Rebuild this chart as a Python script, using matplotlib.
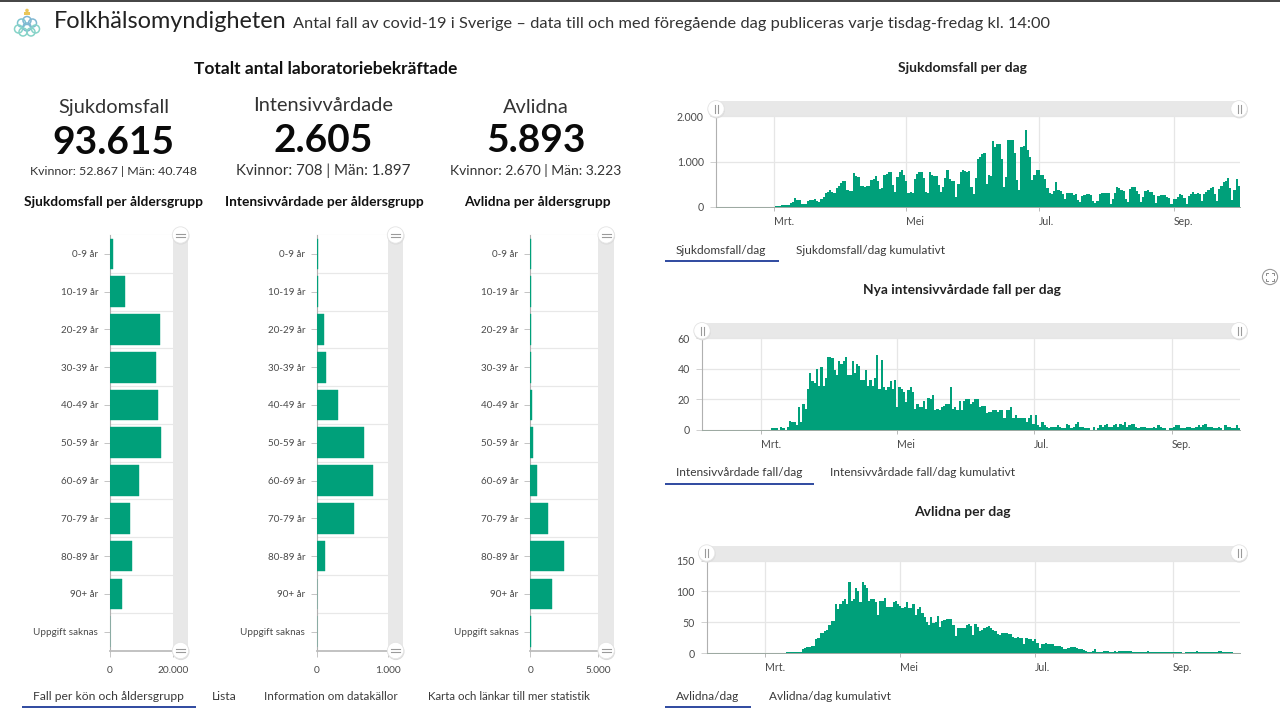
import numpy as np
import matplotlib
matplotlib.use("Agg")
import matplotlib.pyplot as plt
from matplotlib.patches import Circle, Rectangle

plt.rcParams['font.family'] = ['Lato', 'DejaVu Sans']

age_groups = ["0-9 år", "10-19 år", "20-29 år", "30-39 år", "40-49 år", "50-59 år",
              "60-69 år", "70-79 år", "80-89 år", "90+ år", "Uppgift saknas"]
age_cases = [850, 4870, 15870, 14700, 15240, 16190, 9310, 6350, 6980, 3700, 60]
age_icu = [20, 20, 98, 127, 296, 667, 784, 521, 113, 6, 6]
age_deaths = [20, 20, 20, 25, 110, 200, 490, 1300, 2470, 1560, 20]

feb_zero = [0] * 26

cases_mar = [2,10,20,25,30,50,40,40,90,100,200,150,140,70,60,70,120,140,140,170,130,110,180,220,300,330,380,320,310,420,450]
cases_apr = [520,560,580,370,340,360,740,690,650,450,460,440,460,450,600,620,680,580,400,420,700,720,760,780,480,320,650,780,810,700]
cases_may = [560,300,320,310,620,730,770,760,640,320,300,770,700,680,690,490,320,430,640,810,620,570,560,220,500,770,810,790,780,790,440]
cases_jun = [280,640,1060,1100,1160,1180,500,700,680,1450,1330,1380,1380,1050,430,650,1480,1480,1480,1200,600,380,1330,1350,1700,1250,1100,600,700,810]
cases_jul = [820,700,700,620,420,300,280,340,550,380,350,280,170,300,300,300,270,280,150,110,230,270,290,280,260,130,80,120,290,310,310]
cases_aug = [310,300,70,180,300,430,420,370,350,170,100,400,440,440,340,280,100,210,350,370,330,320,260,90,230,250,270,250,220,190,60]
cases_sep = [170,170,210,280,250,200,60,240,280,320,280,310,280,130,280,330,370,410,430,280,130,400,450,550,580,640,420,160,370,620,450]

icu_mar = [0,0,0,0,0,1,1,1,0,2,1,0,2,6,5,5,3,15,5,17,14,27,37,32,31,40,29,41,29,34,48]
icu_apr = [48,47,39,36,45,43,45,48,36,36,45,37,43,42,33,33,39,29,33,29,34,49,27,46,28,26,28,32,27,33]
icu_may = [15,28,27,25,18,26,28,25,14,17,15,15,19,14,21,20,23,13,14,13,15,16,17,17,28,14,15,13,19,13,19]
icu_jun = [20,20,17,18,20,20,15,16,16,11,12,12,13,13,12,13,13,8,13,13,15,8,10,8,8,8,8,5,8,10]
icu_jul = [4,10,3,2,5,3,2,1,2,2,2,3,2,1,1,4,3,1,2,4,5,2,2,1,1,1,0,2,0,1,3]
icu_aug = [2,3,4,2,2,3,4,2,4,3,5,2,3,4,4,2,1,2,2,2,1,1,1,2,1,3,2,1,1,0,1]
icu_sep = [1,2,3,3,1,1,1,2,2,1,1,2,3,2,3,4,2,2,2,1,1,2,1,0,3,2,2,1,1,3,1]

deaths_mar = [0,0,0,0,0,0,0,0,0,0,1,1,1,2,2,2,2,6,8,10,9,11,11,22,24,32,33,36,38,46,52]
deaths_apr = [52,80,71,80,85,88,80,115,85,88,105,100,82,115,110,105,85,88,88,82,62,85,85,90,74,75,74,83,84,80]
deaths_may = [76,73,75,83,73,73,80,62,72,75,65,58,50,45,58,48,50,60,42,52,54,55,55,55,45,28,40,40,40,40,46]
deaths_jun = [47,43,30,47,42,35,38,40,42,43,40,37,35,31,30,33,33,32,31,31,26,25,26,25,25,15,24,22,22,20]
deaths_jul = [22,17,8,15,14,16,15,14,15,12,12,12,10,7,7,8,9,10,9,8,7,6,5,3,2,2,3,6,2,1,2]
deaths_aug = [3,3,3,2,2,3,2,3,3,3,4,3,4,2,1,1,2,1,2,2,3,2,1,1,1,1,1,1,1,1,1]
deaths_sep = [1,2,2,1,1,0,1,1,1,1,2,3,2,1,2,2,1,1,1,1,1,3,3,1,1,1,2,1,0,0,0]

cases_daily = feb_zero + cases_mar + cases_apr + cases_may + cases_jun + cases_jul + cases_aug + cases_sep
icu_daily = feb_zero + icu_mar + icu_apr + icu_may + icu_jun + icu_jul + icu_aug + icu_sep
deaths_daily = feb_zero + deaths_mar + deaths_apr + deaths_may + deaths_jun + deaths_jul + deaths_aug + deaths_sep

month_ticks = np.array(["2020-03-01", "2020-05-01", "2020-07-01", "2020-09-01"], dtype="datetime64[D]")
month_labels = ["Mrt.", "Mei", "Jul.", "Sep."]

GREEN = "#00a07a"
TXT = "#4a4a4a"
W, H = 1280, 720
fig = plt.figure(figsize=(12.8, 7.2), dpi=100, facecolor="white")


def px_axes(l, t, r, b, z=1):
    return fig.add_axes([l / W, 1 - b / H, (r - l) / W, (b - t) / H], zorder=z)


ui_back = px_axes(0, 0, W, H, z=0)
ui_back.set_xlim(0, W); ui_back.set_ylim(H, 0); ui_back.axis("off")
ui = px_axes(0, 0, W, H, z=5)
ui.set_xlim(0, W); ui.set_ylim(H, 0); ui.axis("off"); ui.patch.set_alpha(0)


def handle(x, y, vertical):
    ui.add_patch(Circle((x + 0.4, y + 1), 8.6, fc="#dcdcdc", ec="none"))
    ui.add_patch(Circle((x, y), 8.2, fc="white", ec="#e4e4e4", lw=0.6))
    if vertical:
        for d in (-1.5, 1.5):
            ui.plot([x + d, x + d], [y - 4, y + 4], color="#9a9a9a", lw=0.8)
    else:
        for d in (-1.5, 1.5):
            ui.plot([x - 4.5, x + 4.5], [y + d, y + d], color="#9a9a9a", lw=0.8)


def hbar_panel(vals, left, band, band_end, xmax, maxlabel):
    ax = px_axes(left, 235, band, 650.5)
    ax.barh(np.arange(len(vals)), vals, height=0.81, color=GREEN, edgecolor=GREEN, linewidth=0.3, zorder=3)
    ax.set_xlim(0, xmax); ax.set_ylim(10.5, -0.5)
    ax.set_yticks(np.arange(11)); ax.set_yticklabels(age_groups)
    ax.set_yticks(np.arange(0.5, 10), minor=True)
    ax.set_xticks([0, xmax]); ax.set_xticklabels(["0", maxlabel])
    ax.grid(True, which="minor", axis="y", color="#e8e8e8", lw=0.9)
    ax.tick_params(axis="y", which="minor", length=0)
    ax.tick_params(axis="y", which="major", length=4, width=0.7, color="#c4c4c4", labelsize=7.1, labelcolor=TXT, pad=4.5)
    ax.tick_params(axis="x", length=4, width=0.7, color="#c4c4c4", labelsize=7.3, labelcolor=TXT, pad=7)
    for s in ("top", "right"):
        ax.spines[s].set_visible(False)
    ax.spines["left"].set_color("#b0b0b0"); ax.spines["left"].set_linewidth(0.8)
    ax.spines["bottom"].set_color("#bdbdbd"); ax.spines["bottom"].set_linewidth(1.3)
    ui_back.add_patch(Rectangle((band, 235), band_end - band, 415.5, fc="#e8e8e8", ec="none"))
    ui_back.plot([left, band], [235, 235], color="#ececec", lw=0.8)
    mid = (band + band_end) / 2
    handle(mid, 235, False)
    handle(mid, 650.5, False)


hbar_panel(age_cases, 110, 173, 188, 20000, "20.000")
hbar_panel(age_icu, 317, 388, 403, 1000, "1.000")
hbar_panel(age_deaths, 530.3, 598.3, 614, 5000, "5.000")


def daily_panel(vals, left, top, base, ymax, yticks, ylabels):
    ax = px_axes(left, top, 1240, base)
    start = np.datetime64("2020-02-04")
    dates = start + np.arange(len(vals)) * np.timedelta64(1, "D")
    ax.bar(dates, vals, width=1.0, color=GREEN, edgecolor="none", zorder=3)
    ax.set_xlim(np.datetime64("2020-02-03T12:00"), np.datetime64("2020-10-01T12:00"))
    ax.set_ylim(0, ymax)
    ax.set_yticks(yticks); ax.set_yticklabels(ylabels)
    ax.set_xticks(month_ticks); ax.set_xticklabels(month_labels, ha="left")
    ax.grid(True, axis="both", color="#e6e6e6", lw=0.9, zorder=0)
    ax.tick_params(axis="y", length=4.3, width=0.7, color="#d0d0d0", labelsize=7.6, labelcolor=TXT, pad=4.5)
    ax.tick_params(axis="x", length=3, width=0.7, color="#b8b8b8", labelsize=7.6, labelcolor=TXT, pad=3.4)
    for s in ("top", "right"):
        ax.spines[s].set_visible(False)
    ax.spines["left"].set_color("#b0b0b0"); ax.spines["left"].set_linewidth(0.8)
    ax.spines["bottom"].set_color("#9aa8a0"); ax.spines["bottom"].set_linewidth(0.7)
    ui_back.add_patch(Rectangle((left, top - 15), 1240 - left, 15, fc="#e8e8e8", ec="none"))
    ui_back.plot([left, 1240], [top, top], color="#d6d6d6", lw=0.8)
    handle(left, top - 7.5, True)
    handle(1239, top - 7.5, True)


daily_panel(cases_daily, 716, 116.3, 206.8, 2000, [0, 1000, 2000], ["0", "1.000", "2.000"])
daily_panel(icu_daily, 702, 338.2, 430, 60, [0, 20, 40, 60], ["0", "20", "40", "60"])
daily_panel(deaths_daily, 706.7, 560.5, 653, 150, [0, 50, 100, 150], ["0", "50", "100", "150"])

# Header
ui.plot([0, W], [0.5, 0.5], color="#222222", lw=1.2)
ui.text(54, 22, "Folkhälsomyndigheten", fontsize=16.9, color="#222222", va="center")
ui.text(293, 24, "Antal fall av covid-19 i Sverige – data till och med föregående dag publiceras varje tisdag-fredag kl. 14:00",
        fontsize=11.75, color="#333333", va="center")

# Logo
for (cx, cy, col) in [(27, 20.5, "#7fb7d2"), (21.5, 23, "#7cc4cf"), (32.5, 23, "#7fb7d2"), (18.5, 29, "#86d3c8"),
                      (27, 27, "#7fb7d2"), (35.5, 29, "#86d3c8"), (23, 32, "#86d3c8"), (31, 32, "#86d3c8")]:
    ui.add_patch(Circle((cx, cy), 4.0, fc="none", ec=col, lw=1.1))
ui.add_patch(Rectangle((24, 11.5), 6, 3.5, fc="#eac65a", ec="none"))
ui.add_patch(Circle((27, 10.5), 1.8, fc="#eac65a", ec="none"))

ui.text(326, 68.5, "Totalt antal laboratoriebekräftade", fontsize=12.5, fontweight="bold", color="#111111", ha="center", va="center")
ui.text(962, 68.5, "Sjukdomsfall per dag", fontsize=10, fontweight="bold", color="#222222", ha="center", va="center")
ui.text(962, 290.5, "Nya intensivvårdade fall per dag", fontsize=9.9, fontweight="bold", color="#222222", ha="center", va="center")
ui.text(962, 512.5, "Avlidna per dag", fontsize=10, fontweight="bold", color="#222222", ha="center", va="center")

kpis = [(113.5, 107.5, 143, 171.5, "Sjukdomsfall", "93.615", "Kvinnor: 52.867 | Män: 40.748", 8.9),
        (323, 105.5, 140, 170.5, "Intensivvårdade", "2.605", "Kvinnor: 708 | Män: 1.897", 10.9),
        (536, 107.5, 141, 170.5, "Avlidna", "5.893", "Kvinnor: 2.670 | Män: 3.223", 10.0)]
for cx, y1, y2, y3, name, num, split, fs in kpis:
    ui.text(cx, y1, name, fontsize=14.4, color="#333333", ha="center", va="center")
    ui.text(cx, y2, num, fontsize=28, fontweight="bold", color="#0a0a0a", ha="center", va="center")
    ui.text(cx, y3, split, fontsize=fs, color="#333333", ha="center", va="center")

for cx, t in [(113, "Sjukdomsfall per åldersgrupp"), (324, "Intensivvårdade per åldersgrupp"), (537, "Avlidna per åldersgrupp")]:
    ui.text(cx, 201.5, t, fontsize=9.95, fontweight="bold", color="#111111", ha="center", va="center")

# Tabs
tabs = [(33, 696, "Fall per kön och åldersgrupp", 8.7), (212, 696, "Lista", 8.7), (264, 696, "Information om datakällor", 8.4),
        (428, 696, "Karta och länkar till mer statistik", 8.3),
        (676, 250, "Sjukdomsfall/dag", 8.6), (796, 250, "Sjukdomsfall/dag kumulativt", 8.6),
        (676, 473, "Intensivvårdade fall/dag", 8.6), (830, 473, "Intensivvårdade fall/dag kumulativt", 8.6),
        (676, 696, "Avlidna/dag", 8.6), (769, 696, "Avlidna/dag kumulativt", 8.6)]
for x, y, t, fs in tabs:
    ui.text(x, y, t, fontsize=fs, color="#3a3a3a", va="center")
for x0, x1, y in [(22, 196, 707), (665, 779, 261), (665, 814, 484), (665, 751, 707)]:
    ui.plot([x0, x1], [y, y], color="#1f3b98", lw=1.3, solid_capstyle="butt")

# Fullscreen icon
ui.add_patch(Circle((1270, 277), 7.6, fc="white", ec="#9a9a9a", lw=0.8))
for sx in (-1, 1):
    for sy in (-1, 1):
        ui.plot([1270 + sx * 2, 1270 + sx * 4.2, 1270 + sx * 4.2], [277 + sy * 4.2, 277 + sy * 4.2, 277 + sy * 2],
                color="#8a8a8a", lw=0.7)

fig.savefig("out.png", dpi=100)
